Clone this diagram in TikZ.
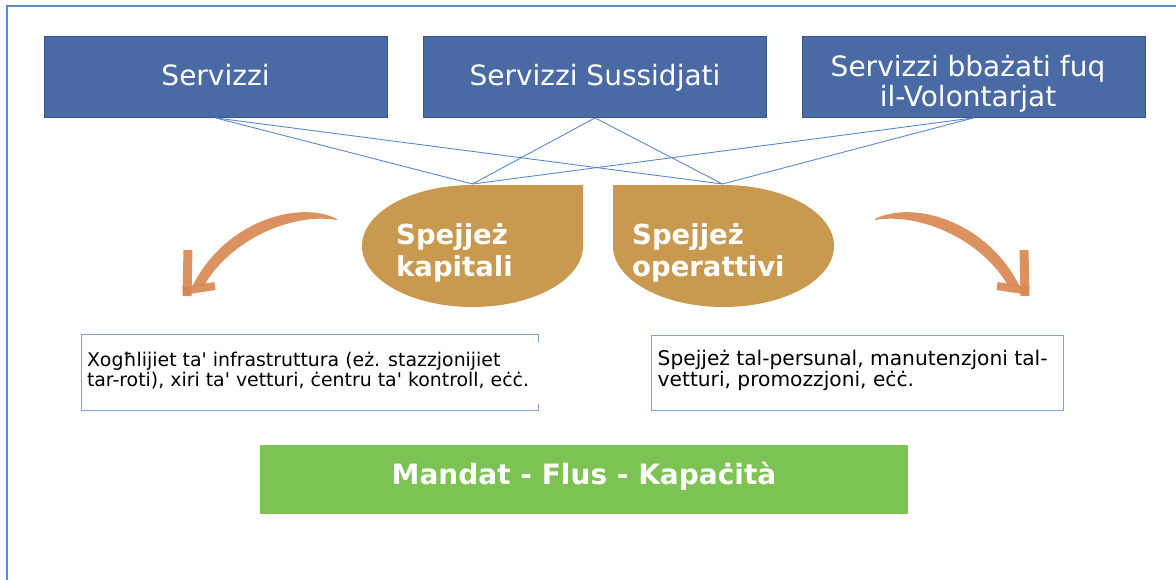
\documentclass[tikz,border=0pt]{standalone}
\usepackage{fontspec}
\setmainfont{DejaVu Sans}
\definecolor{boxblue}{HTML}{4A6AA5}
\definecolor{boxedge}{HTML}{3A5688}
\definecolor{linkblue}{HTML}{5B86D2}
\definecolor{leafgold}{HTML}{C8994E}
\definecolor{txtblue}{HTML}{7F9FDB}
\definecolor{mgreen}{HTML}{7DC354}
\definecolor{brushorange}{HTML}{D8864F}
\definecolor{framecol}{HTML}{5A8AD0}
\tikzset{brusharrow/.pic={
  \fill[brush] (337,219) .. controls (300,200) and (225,220) .. (192,287)
    -- (204,286) .. controls (228,242) and (290,212) .. (337,220) -- cycle;
  \draw[brushline] (188,250) -- (187,296);
  \draw[brushline, line width=8pt] (183,291) -- (215,286);
}}
\begin{document}
\begin{tikzpicture}[x=1pt,y=-1pt,
  frame/.style={draw=framecol, line width=2.2pt},
  topbox/.style={draw=boxedge, fill=boxblue, line width=0.8pt, text=white, minimum width=343pt, minimum height=81pt, inner sep=0pt, font=\fontsize{28}{30}\selectfont, align=center},
  boxtext/.style={text=white, inner sep=0pt, font=\fontsize{28}{30}\selectfont, align=center},
  link/.style={draw=linkblue, line width=0.9pt},
  leaf/.style={fill=leafgold},
  leaftext/.style={text=white, font=\bfseries\fontsize{27.5}{32}\selectfont, align=left, inner sep=0pt, anchor=north west},
  txtframe/.style={minimum height=75pt, inner sep=0pt},
  txtbody/.style={align=left, inner sep=0pt, anchor=west},
  txtedge/.style={draw=txtblue, line width=1pt},
  greenbox/.style={fill=mgreen, minimum width=648pt, inner sep=0pt, text height=39pt, text depth=30pt, text=white, font=\bfseries\fontsize{28}{30}\selectfont},
  brush/.style={fill=brushorange, fill opacity=0.9},
  brushline/.style={draw=brushorange, draw opacity=0.9, line width=9pt}
]
\useasboundingbox (0,0) rectangle (1176,579);
\clip (0,0) rectangle (1176,579);
\draw[frame] (7,600) -- (7,6) -- (1200,6);

% top boxes
\node[topbox, text height=20.5pt, text depth=4.5pt] (s1) at (215.5,77) {Servizzi};
\node[topbox, text height=20.5pt, text depth=4.5pt] (s2) at (595,77) {Servizzi Sussidjati};
\node[topbox] (s3) at (973.5,77) {};
\node[boxtext] (s3t) at (968,84) {Servizzi bbażati fuq\\il-Volontarjat};

% apex points
\coordinate (capex) at (472.5,184);
\coordinate (oapex) at (722.5,184);
\foreach \s in {s1,s2,s3}{
  \draw[link] (\s.south) -- (capex);
  \draw[link] (\s.south) -- (oapex);
}

% leaves
\fill[leaf] (583,185) -- (583,246) arc[start angle=0,end angle=180,x radius=110.5,y radius=61]
  arc[start angle=180,end angle=270,x radius=110.5,y radius=61] -- cycle;
\fill[leaf] (613,185) -- (613,246) arc[start angle=180,end angle=0,x radius=110.5,y radius=61]
  arc[start angle=0,end angle=-90,x radius=110.5,y radius=61] -- cycle;
\node[leaftext] (kap) at (396,223) {Spejjeż\\kapitali};
\node[leaftext] (ope) at (632,223) {Spejjeż\\operattivi};

% brush arrows
\pic at (0,0) {brusharrow};
\pic[xscale=-1] at (1212,0) {brusharrow};

% text boxes
\node[txtframe, minimum width=456pt] (lt) at (310,372.5) {};
\draw[txtedge] ([yshift=-7pt]lt.north east) -- (lt.north east) -- (lt.north west) -- (lt.south west) -- (lt.south east) -- ([yshift=6pt]lt.south east);
\node[txtbody, font=\fontsize{18.9}{19.5}\selectfont] (ltt) at ([xshift=5pt,yshift=2pt]lt.west)
  {Xogħlijiet ta\textquotesingle{} infrastruttura (eż. stazzjonijiet\\tar-roti), xiri ta\textquotesingle{} vetturi, ċentru ta\textquotesingle{} kontroll, eċċ.};
\node[txtframe, txtedge, minimum width=412pt] (rt) at (857,372.5) {};
\node[txtbody, font=\fontsize{20.2}{19.5}\selectfont] (rtt) at ([xshift=7pt,yshift=2pt]rt.west)
  {Spejjeż tal-persunal, manutenzjoni tal-\\vetturi, promozzjoni, eċċ.};

% green bar
\node[greenbox, anchor=north] (mfk) at (584,445) {Mandat - Flus - Kapaċità};
\end{tikzpicture}
\end{document}
